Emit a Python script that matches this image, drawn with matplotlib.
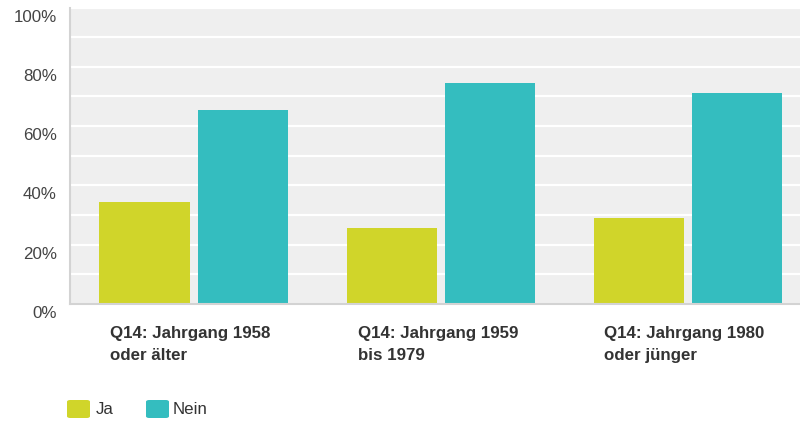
import numpy as np
import matplotlib
matplotlib.use("Agg")
import matplotlib.pyplot as plt
from matplotlib.patches import FancyBboxPatch
from matplotlib.transforms import ScaledTranslation, blended_transform_factory

categories = ["Q14: Jahrgang 1958\noder älter",
              "Q14: Jahrgang 1959\nbis 1979",
              "Q14: Jahrgang 1980\noder jünger"]
series_names = ["Ja", "Nein"]
ja_values = [34.5, 25.5, 28.9]
nein_values = [65.5, 74.5, 71.1]
y_ticks = [0, 20, 40, 60, 80, 100]
y_tick_labels = ["0%", "20%", "40%", "60%", "80%", "100%"]

JA_COLOR = "#D0D52A"
NEIN_COLOR = "#34BDBF"
BG = "#EFEFEF"

plt.rcParams['font.family'] = ['Liberation Sans', 'DejaVu Sans']

W, H = 800, 421
fig = plt.figure(figsize=(W / 100, H / 100), dpi=100)
# plot area: left at 70px, 247px per category, bottom at 304px
ax = fig.add_axes([70 / W, (H - 304) / H, 741 / W, 296.5 / H])
ax.set_facecolor(BG)

x = np.arange(len(categories))
bar_w = 90 / 247
off = 49 / 247
ax.bar(x - off, ja_values, bar_w, color=JA_COLOR, zorder=3)
ax.bar(x + off, nein_values, bar_w, color=NEIN_COLOR, zorder=3)

ax.set_xlim(-0.5, 2.5)
ax.set_ylim(0, 100)

# white gridlines every 10%
ax.set_yticks(y_ticks)
ax.set_yticks([10, 30, 50, 70, 90], minor=True)
ax.grid(axis="y", which="both", color="white", lw=1.6, zorder=1)
ax.set_yticklabels(y_tick_labels, fontsize=12.2, color="#444444")
ax.tick_params(axis="y", which="both", length=0, pad=9.5)
for lab in ax.get_yticklabels():
    lab.set_transform(lab.get_transform() + ScaledTranslation(0, -0.08, fig.dpi_scale_trans))
ax.set_xticks([])

for side in ["top", "right"]:
    ax.spines[side].set_visible(False)
for side in ["left", "bottom"]:
    ax.spines[side].set_color("#D3D3D3")
    ax.spines[side].set_linewidth(1.5)
    ax.spines[side].set_zorder(4)

trans = blended_transform_factory(ax.transData, ax.transAxes)
for i, cat in enumerate(categories):
    ax.text(x[i] - 83 / 247, -0.073, cat, transform=trans, ha="left", va="top",
            fontsize=12.2, fontweight="bold", color="#333333", linespacing=1.62)

# legend
legend_items = [(67, 96, JA_COLOR, series_names[0]), (146, 173, NEIN_COLOR, series_names[1])]
for px, tx, col, name in legend_items:
    p = FancyBboxPatch((px / W, (H - 418) / H), 23 / W, 18 / H,
                       boxstyle="round,pad=0,rounding_size=0.004",
                       transform=fig.transFigure, facecolor=col, edgecolor="none")
    fig.patches.append(p)
    fig.text(tx / W, (H - 409) / H, name, ha="left", va="center",
             fontsize=12.2, color="#333333")

fig.savefig("out.png", dpi=100)
